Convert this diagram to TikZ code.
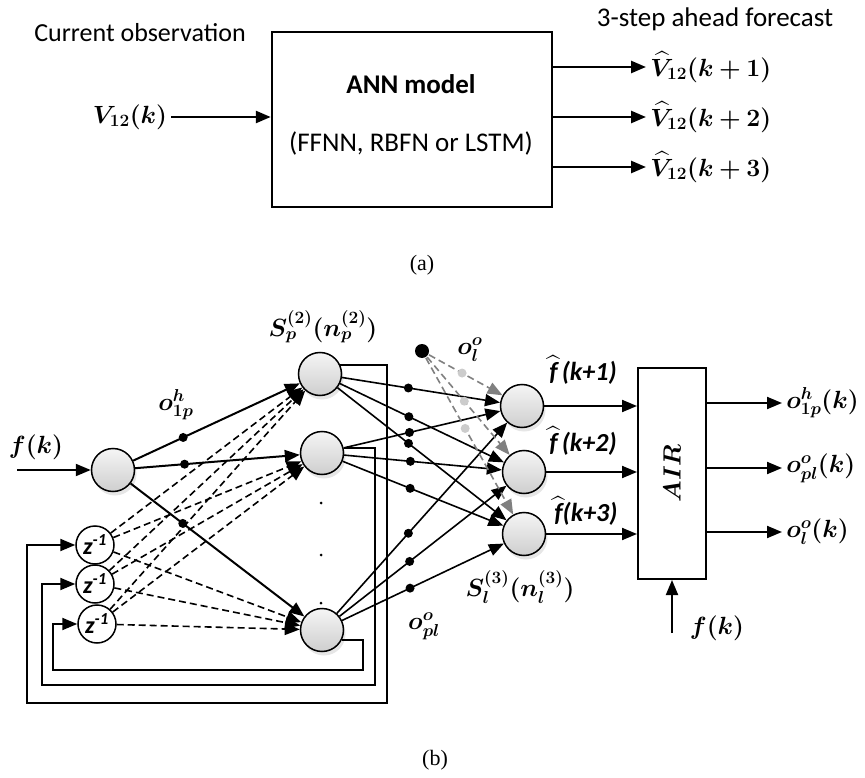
\documentclass[tikz,border=0pt]{standalone}
\usepackage{amsmath,bm}
\usepackage{fontspec}
\setmainfont{Carlito}
\newfontfamily\capfont{Liberation Serif}
\usetikzlibrary{arrows.meta,shadows}

\begin{document}
\begin{tikzpicture}[x=1pt, y=-1pt, line width=2pt,
    every node/.style={font=\fontsize{24}{28}\selectfont},
    big/.style={font=\fontsize{27}{31}\selectfont},
    olbl/.style={font=\fontsize{26}{30}\selectfont},
    fhat/.style={font=\fontsize{26}{30}\selectfont\bfseries\itshape},
    arr/.style={-{Triangle[length=15pt,width=12pt]}},
    dsh/.style={dash pattern=on 7pt off 4pt},
    neuron/.style={circle, draw, line width=1.5pt, minimum size=43pt, inner sep=0pt,
      top color=gray!8, bottom color=gray!38,
      drop shadow={opacity=0.2, shadow xshift=2pt, shadow yshift=-4pt}},
    delay/.style={circle, draw, line width=1.5pt, minimum size=38pt, inner sep=0pt, fill=white,
      font=\fontsize{24}{28}\selectfont\bfseries\itshape},
    wdot/.style={circle, fill, inner sep=0pt, minimum size=9pt},
    vdot/.style={circle, fill, inner sep=0pt, minimum size=3pt}]
  \useasboundingbox (0,0) rectangle (865,778);

  % (a) ANN model
  \node[draw, line width=2.5pt, minimum width=280pt, minimum height=175pt] (ann) at (412,119.5) {};
  \node[big] (annname) at (411,84) {\bfseries ANN model};
  \node[big] (anntype) at (411,143) {(FFNN, RBFN or LSTM)};
  \node[font=\fontsize{26}{30}\selectfont] (obs) at (140,33) {Current observation};
  \node[big] (fcast) at (715,19) {3-step ahead forecast};
  \node (vin) at (130,117) {$\bm{V_{12}(k)}$};
  \draw[arr, line width=2.5pt] (vin) -- (vin -| ann.west);
  \node[anchor=west] (v1) at (646,67) {$\bm{\widehat{V}_{12}(k+1)}$};
  \node[anchor=west] (v2) at (646,117) {$\bm{\widehat{V}_{12}(k+2)}$};
  \node[anchor=west] (v3) at (646,167) {$\bm{\widehat{V}_{12}(k+3)}$};
  \foreach \v in {v1,v2,v3}
    \draw[arr, line width=2.5pt] (ann.east |- \v.west) -- (\v.west);
  \node[font=\fontsize{22}{26}\selectfont\capfont] (capa) at (422,265) {(a)};

  % (b) network
  \node[neuron] (in) at (113,470) {};
  \node[neuron] (h1) at (320,374) {};
  \node[neuron] (h2) at (322,453) {};
  \node[neuron] (h3) at (322,630) {};
  \node[neuron] (out1) at (522,406) {};
  \node[neuron] (out2) at (524,472) {};
  \node[neuron] (out3) at (524,534) {};
  \node[delay] (z1) at (95,545) {z\textsuperscript{-1}};
  \node[delay] (z2) at (95,584) {z\textsuperscript{-1}};
  \node[delay] (z3) at (97,624) {z\textsuperscript{-1}};
  \foreach \y [count=\i] in {503,555,603}
    \node[vdot] (d\i) at (321,\y) {};
  \node[circle, fill, inner sep=0pt, minimum size=14pt] (bias) at (422,351) {};

  \coordinate (fin) at (17,470);
  \draw[arr] (fin) -- (in);
  \node[olbl] (fk) at (36,447) {$\bm{f(k)}$};
  \node[olbl] (o1ph) at (176,405) {$\bm{o_{1p}^{h}}$};
  \node (sp) at (323,327) {$\bm{S_p^{(2)}(n_p^{(2)})}$};
  \node[olbl] (olo) at (470,350) {$\bm{o_{l}^{o}}$};
  \node[olbl] (opl) at (424,626) {$\bm{o_{pl}^{o}}$};
  \node (sl) at (520,587) {$\bm{S_l^{(3)}(n_l^{(3)})}$};

  % input to hidden
  \foreach \h in {h1,h2,h3}
    \draw[arr] (in) -- node[pos=0.3, wdot] {} (\h);
  % delays to hidden
  \foreach \z in {z1,z2,z3}
    \foreach \h in {h1,h2,h3}
      \draw[arr, dsh, line width=1.6pt] (\z) -- (\h);
  % hidden to output
  \foreach \h in {h1,h2,h3}
    \foreach \o in {out1,out2,out3}
      \draw[arr, line width=1.6pt] (\h) -- node[pos=0.42, wdot] {} (\o);
  % bias
  \foreach \o in {out1,out2,out3}
    \draw[arr, dsh, gray, line width=1.6pt] (bias) -- node[pos=0.45, wdot, gray!40] {} (\o);

  % feedback loops
  \draw[arr] (h1.25) -| (387,703) -| (27,545) -- (z1);
  \draw[arr] (h2.14) -| (375,685) -| (42,584) -- (z2);
  \draw[arr] (h3.-28) -| (363,670) -| (53,624) -- (z3);

  % AIR block
  \node[draw, minimum width=68pt, minimum height=211pt, inner sep=0pt] (air) at (672,473.5) {};
  \node[rotate=90] (airlbl) at (air) {$\bm{AIR}$};
  \node[fhat] (fh1) at (583,370) {$\widehat{\text{\bfseries\itshape f}}$\,(k+1)};
  \node[fhat] (fh2) at (583,441) {$\widehat{\text{\bfseries\itshape f}}$\,(k+2)};
  \node[fhat] (fh3) at (586,511) {$\widehat{\text{\bfseries\itshape f}}$(k+3)};
  \foreach \o in {out1,out2,out3}
    \draw[arr] (\o) -- (\o -| air.west);
  \node[anchor=west] (y1) at (782,403) {$\bm{o_{1p}^{h}(k)}$};
  \node[anchor=west] (y2) at (782,468) {$\bm{o_{pl}^{o}(k)}$};
  \node[anchor=west] (y3) at (782,532) {$\bm{o_{l}^{o}(k)}$};
  \foreach \y in {y1,y2,y3}
    \draw[arr] (air.east |- \y.west) -- (\y.west);
  \coordinate (fbin) at (672,633);
  \draw[arr] (fbin) -- (air.south);
  \node[olbl] (fkb) at (717,628) {$\bm{f(k)}$};
  \node[font=\fontsize{22}{26}\selectfont\capfont] (capb) at (435,760) {(b)};
\end{tikzpicture}
\end{document}
